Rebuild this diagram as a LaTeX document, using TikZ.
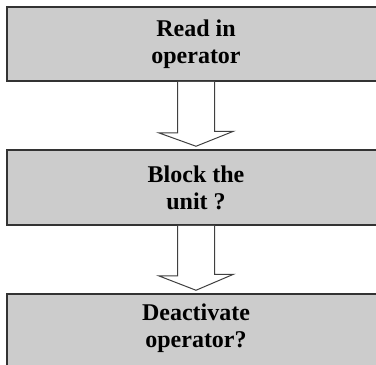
\documentclass[tikz,border=0pt]{standalone}
\usepackage{fontspec}
\setmainfont{Liberation Serif}
\begin{document}
\begin{tikzpicture}[x=1pt,y=-1pt,
  stepbox/.style={draw=black!80, line width=1.5pt, fill=black!20,
    minimum width=378pt, inner sep=0pt, align=center,
    font=\fontsize{24}{27}\selectfont\bfseries},
  blockarrow/.style={draw=black!75, line width=1pt, fill=white, line join=miter}]
  \useasboundingbox (0,0) rectangle (376,365);
  \clip (0,0) rectangle (376,365);
  \node[stepbox, minimum height=74pt] (read) at (196,44) {Read in\\operator};
  \node[stepbox, minimum height=75pt] (block) at (196,187.5) {Block the\\unit ?};
  \node[stepbox, minimum height=74pt] (deact) at (196,331) {};
  \node[font=\fontsize{24}{27}\selectfont\bfseries, align=center, anchor=north]
    (deacttext) at ([yshift=-7pt]deact.north) {Deactivate\\operator?};
  % hollow block arrows between the steps
  \draw[blockarrow] ([xshift=-18.5pt]read.south) -- ++(0,51) -- ++(-19,0)
    -- ([yshift=3pt]block.north) -- ([xshift=37.5pt,yshift=18pt]block.north)
    -- ++(-19,0) -- ([xshift=18.5pt]read.south);
  \draw[blockarrow] ([xshift=-18.5pt]block.south) -- ++(0,50) -- ++(-19,0)
    -- ([yshift=3pt]deact.north) -- ([xshift=37.5pt,yshift=19pt]deact.north)
    -- ++(-19,0) -- ([xshift=18.5pt]block.south);
\end{tikzpicture}
\end{document}
